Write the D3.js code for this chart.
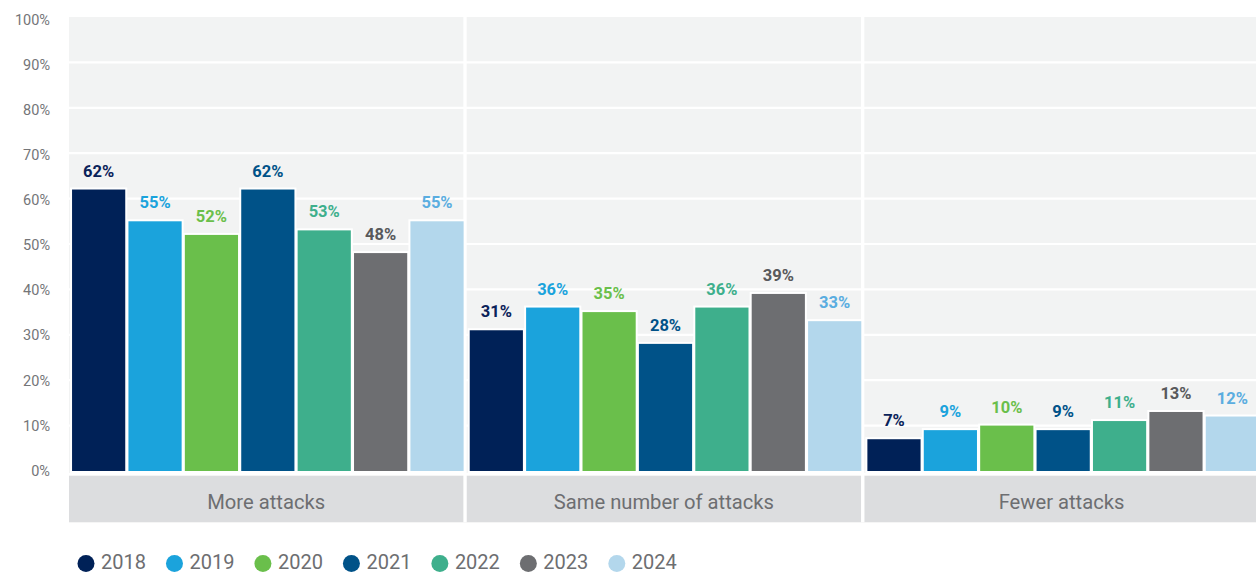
<!DOCTYPE html>
<html>
<head>
<meta charset="utf-8">
<script src="https://cdn.jsdelivr.net/npm/d3@7"></script>
<style>
  html, body { margin: 0; padding: 0; background: #ffffff; }
  svg { display: block; font-family: Roboto, "Noto Sans", sans-serif; }
</style>
</head>
<body>
<script>
// Survey answers per year, in percent, for each category
const categories = ["More attacks", "Same number of attacks", "Fewer attacks"];
const years = ["2018", "2019", "2020", "2021", "2022", "2023", "2024"];
const values2018 = [62, 31, 7];
const values2019 = [55, 36, 9];
const values2020 = [52, 35, 10];
const values2021 = [62, 28, 9];
const values2022 = [53, 36, 11];
const values2023 = [48, 39, 13];
const values2024 = [55, 33, 12];
const yTicks = [0, 10, 20, 30, 40, 50, 60, 70, 80, 90, 100];

const seriesValues = [values2018, values2019, values2020, values2021, values2022, values2023, values2024];
const barColors = ["#002157", "#1ba3dc", "#6abf4b", "#005288", "#3eaf8c", "#6d6e71", "#b3d7ec"];
const labelColors = ["#0a2259", "#1ba3dc", "#6abf4b", "#005288", "#3eaf8c", "#58595b", "#5aade0"];

const rows = categories.map((c, i) => ({
  category: c,
  bars: years.map((yr, j) => ({ year: yr, value: seriesValues[j][i], idx: j }))
}));

const W = 1256, H = 573;
const svg = d3.select("body").append("svg").attr("width", W).attr("height", H);

const x0 = d3.scaleBand().domain(categories).range([69, 1262]).paddingInner(0).paddingOuter(0);
const x1 = d3.scaleBand().domain(years).range([0, x0.bandwidth()]).paddingInner(0.0567).paddingOuter(0.054);
const y = d3.scaleLinear().domain([0, 100]).range([471, 17]);
const yLabel = y.copy().range([470.7, 19.5]);

const sepW = 3.3;
const bandTop = 475.7, bandBottom = 522.3;

// Plot background
svg.append("rect")
  .attr("x", x0.range()[0]).attr("y", y(100))
  .attr("width", W - x0.range()[0]).attr("height", y(0) - y(100) + 2)
  .attr("fill", "#f2f3f3");

// Horizontal gridlines
svg.append("g")
  .selectAll("line")
  .data(yTicks.filter(t => t > 0 && t < 100))
  .join("line")
  .attr("x1", x0.range()[0]).attr("x2", W)
  .attr("y1", d => y(d)).attr("y2", d => y(d))
  .attr("stroke", "#ffffff").attr("stroke-width", 2.2);

// Y axis tick labels
svg.append("g")
  .selectAll("text")
  .data(yTicks)
  .join("text")
  .attr("x", 50)
  .attr("y", d => yLabel(d))
  .attr("dy", "0.35em")
  .attr("text-anchor", "end")
  .attr("font-size", 14.5)
  .attr("fill", "#747578")
  .text(d => d + "%");

// Category bands below the plot
svg.append("g")
  .selectAll("rect")
  .data(categories)
  .join("rect")
  .attr("x", d => x0(d))
  .attr("y", bandTop)
  .attr("width", x0.bandwidth())
  .attr("height", bandBottom - bandTop)
  .attr("fill", "#dcdddf");

svg.append("g")
  .selectAll("text")
  .data(categories)
  .join("text")
  .attr("x", d => x0(d) + (x0.bandwidth() - sepW) / 2)
  .attr("y", 509)
  .attr("text-anchor", "middle")
  .attr("font-size", 20.2)
  .attr("fill", "#6d6e71")
  .text(d => d);

// White separators between categories
svg.append("g")
  .selectAll("rect")
  .data(categories.slice(0, -1))
  .join("rect")
  .attr("x", d => x0(d) + x0.bandwidth() - sepW)
  .attr("y", y(100))
  .attr("width", sepW)
  .attr("height", bandBottom - y(100))
  .attr("fill", "#ffffff");

// Bars and value labels
const groups = svg.append("g")
  .selectAll("g")
  .data(rows)
  .join("g")
  .attr("transform", d => `translate(${x0(d.category)},0)`);

groups.selectAll("rect")
  .data(d => d.bars)
  .join("rect")
  .attr("x", d => x1(d.year) - 1)
  .attr("y", d => y(d.value) - 1)
  .attr("width", x1.bandwidth() + 2)
  .attr("height", d => y(0) - y(d.value) + 2)
  .attr("fill", d => barColors[d.idx])
  .attr("stroke", "#ffffff")
  .attr("stroke-width", 2);

groups.selectAll("text")
  .data(d => d.bars)
  .join("text")
  .attr("x", d => x1(d.year) + x1.bandwidth() / 2)
  .attr("y", d => y(d.value) - 13)
  .attr("text-anchor", "middle")
  .attr("font-size", 16.5)
  .attr("font-weight", 700)
  .attr("fill", d => labelColors[d.idx])
  .text(d => d.value + "%");

// Legend
const legend = svg.append("g");
let cx = 86;
years.forEach((yr, i) => {
  legend.append("circle")
    .attr("cx", cx).attr("cy", 563.5).attr("r", 8.5)
    .attr("fill", barColors[i]);
  const t = legend.append("text")
    .attr("x", cx + 15)
    .attr("y", 569)
    .attr("font-size", 20)
    .attr("fill", "#6d6e71")
    .text(yr);
  const len = t.node().getComputedTextLength();
  cx = cx + 15 + len + 28.5;
});
</script>
</body>
</html>
